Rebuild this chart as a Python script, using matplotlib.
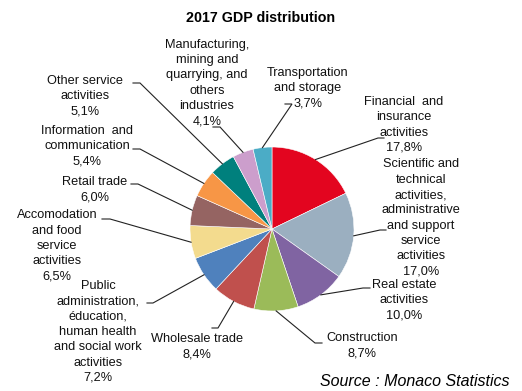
import matplotlib
matplotlib.use('Agg')
import matplotlib.pyplot as plt
import numpy as np

plt.rcParams['font.family'] = ['Liberation Sans', 'DejaVu Sans']

W, H = 522, 391

# --- datos (sentido horario desde las 12) ---
sectors = [
    "Financial  and\ninsurance\nactivities",
    "Scientific and\ntechnical\nactivities,\nadministrative\nand support\nservice\nactivities",
    "Real estate\nactivities",
    "Construction",
    "Wholesale trade",
    "Public\nadministration,\néducation,\nhuman health\nand social work\nactivities",
    "Accomodation\nand food\nservice\nactivities",
    "Retail trade",
    "Information  and\ncommunication",
    "Other service\nactivities",
    "Manufacturing,\nmining and\nquarrying, and\nothers\nindustries",
    "Transportation\nand storage",
]
shares = [17.8, 17.0, 10.0, 8.7, 8.4, 7.2, 6.5, 6.0, 5.4, 5.1, 4.1, 3.7]
colors = ['#E3051F', '#9BAFC0', '#8064A2', '#9BBB59', '#C0504D', '#4F81BD',
          '#F3DB8E', '#956462', '#F79646', '#00807D', '#CC9ECC', '#4BACC6']

# posiciones de etiquetas en pixeles (x, y desde arriba), codo y final del trazo
label_pos = [(404, 125), (421, 218), (404, 300), (362, 346), (197, 347), (98, 332),
             (57, 246), (95, 190), (87, 146), (85, 96), (207, 83), (308, 88)]
elbows = [(378, 138), (380, 230), (363, 288), (315, 343), (218, 328), (153, 303),
          (110, 219), (138, 184), (140, 149), (140, 83), (220, 127), (292, 104)]
ticks = [(384, 138), (386, 230), (370, 288), (322, 343), (212, 328), (147, 303),
         (102, 219), (131, 184), (133, 149), (133, 83), (213, 127), (285, 104)]

cx, cy, r = 272, 229, 82

fig = plt.figure(figsize=(W / 100, H / 100), dpi=100)
ax = fig.add_axes([0, 0, 1, 1])

wedges, _ = ax.pie(shares, colors=colors, startangle=90, counterclock=False,
                   center=(cx, H - cy), radius=r,
                   wedgeprops=dict(linewidth=0.4, edgecolor='white'))
ax.set_xlim(0, W)
ax.set_ylim(0, H)
ax.set_aspect('equal')
ax.axis('off')

for i, w in enumerate(wedges):
    ang = np.deg2rad((w.theta1 + w.theta2) / 2)
    ex = cx + r * np.cos(ang)
    ey = (H - cy) + r * np.sin(ang)
    bx, by = elbows[i]
    tx, ty = ticks[i]
    ax.plot([ex, bx, tx], [ey, H - by, H - ty], color='#222222', lw=0.8,
            solid_joinstyle='miter')
    txt = f"{sectors[i]}\n{shares[i]:.1f}%".replace('.', ',')
    lx, ly = label_pos[i]
    ax.text(lx, H - ly, txt, ha='center', va='center', fontsize=9.2,
            linespacing=1.37, color='#111111')

ax.text(261, H - 18, "2017 GDP distribution", ha='center', va='center',
        fontsize=10.3, fontweight='bold')
ax.text(510, H - 381, "Source : Monaco Statistics", ha='right', va='center',
        fontsize=11.5, style='italic')

fig.savefig('out.png', dpi=100)
